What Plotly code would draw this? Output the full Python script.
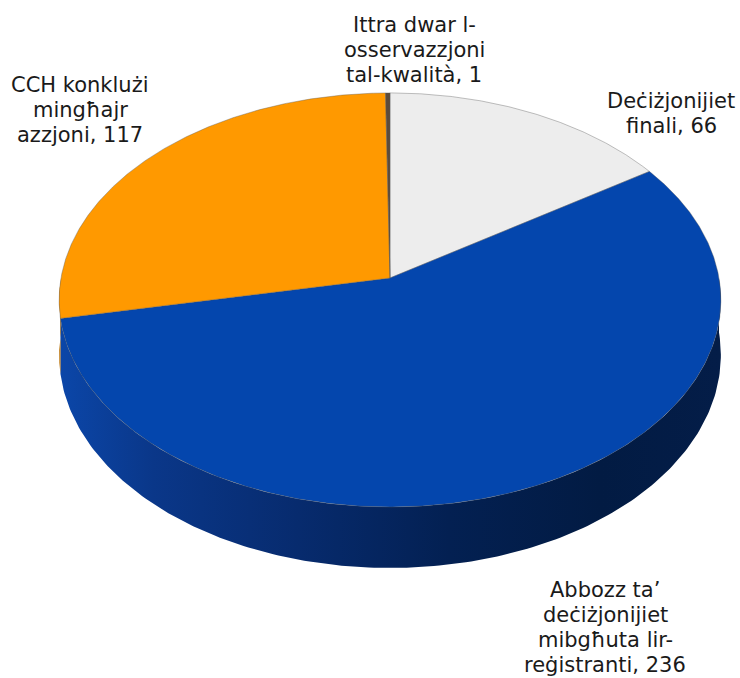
import numpy as np
import plotly.graph_objects as go

# ---------------- data ----------------
categories = [
    "Deċiżjonijiet finali",
    "Abbozz ta’ deċiżjonijiet mibgħuta lir-reġistranti",
    "CCH konklużi mingħajr azzjoni",
    "Ittra dwar l-osservazzjoni tal-kwalità",
]
values = [66, 236, 117, 1]
label_lines = [
    ["Deċiżjonijiet", "finali"],
    ["Abbozz ta’", "deċiżjonijiet", "mibgħuta lir-", "reġistranti"],
    ["CCH konklużi", "mingħajr", "azzjoni"],
    ["Ittra dwar l-", "osservazzjoni", "tal-kwalità"],
]

# ---------------- styles / layout ----------------
top_colors = ["#EDEDED", "#0446AD", "#FF9900", "#5C4B3A"]
side_colors = ["#BDBDBD", None, "#B86E00", "#3a3026"]
blue_side_scale = [
    [0.0, "#0b46a8"], [0.14, "#0a3789"], [0.36, "#072b6e"],
    [0.59, "#032052"], [0.82, "#021b43"], [1.0, "#041d48"],
]
# label anchor (center x, first baseline y) in pixel space
label_pos = [(671, 108), (605, 597), (80, 92), (414, 32)]
LINE_H = 25
FONT = dict(family="DejaVu Sans, Verdana, sans-serif", size=21, color="#1a1a1a")

W, H = 740, 678
CX, CY = 390.0, 278.0        # apex of the pie (projected centre)
R, S, K = 329.0, 204.7, 0.106  # horizontal radius, vertical scale, perspective
D = 54.5                      # thickness


def proj(theta, drop=0.0):
    t = np.radians(theta)
    u, v = np.sin(t), np.cos(t)
    den = 1.0 + K * v
    return CX + R * u / den, CY - S * v / den + drop / den


fig = go.Figure()

total = float(sum(values))
angles = np.concatenate([[0.0], np.cumsum(values) / total * 360.0])

# ---- side walls (front half only) ----
for i, v in enumerate(values):
    a, b = max(angles[i], 90.0), min(angles[i + 1], 270.0)
    if b <= a:
        continue
    th = np.linspace(a, b, 200)
    xt, yt = proj(th)
    xb, yb = proj(th[::-1], D)
    xs = np.concatenate([xt, xb, [xt[0]]])
    ys = np.concatenate([yt, yb, [yt[0]]])
    kw = {}
    if side_colors[i] is None:
        kw["fillgradient"] = dict(type="horizontal", colorscale=blue_side_scale,
                                  start=CX - R, stop=CX + R)
        kw["fillcolor"] = "#062a6c"
    else:
        kw["fillcolor"] = side_colors[i]
    fig.add_trace(go.Scatter(x=xs, y=ys, mode="lines", fill="toself",
                             line=dict(width=0), hoverinfo="skip",
                             showlegend=False, **kw))

# ---- top faces ----
for i, v in enumerate(values):
    th = np.linspace(angles[i], angles[i + 1], max(int((angles[i + 1] - angles[i]) * 3), 3))
    xa, ya = proj(th)
    xs = np.concatenate([[CX], xa, [CX]])
    ys = np.concatenate([[CY], ya, [CY]])
    fig.add_trace(go.Scatter(x=xs, y=ys, mode="lines", fill="toself",
                             fillcolor=top_colors[i],
                             line=dict(width=0.7, color="rgba(90,90,90,0.55)"),
                             name=categories[i], hoverinfo="name",
                             showlegend=False))

# ---- labels ----
for i, lines in enumerate(label_lines):
    txt = list(lines)
    txt[-1] = f"{txt[-1]}, {values[i]}"
    x0, y0 = label_pos[i]
    for j, line in enumerate(txt):
        fig.add_annotation(x=x0, y=y0 + j * LINE_H - 7, text=line,
                           showarrow=False, xanchor="center", yanchor="middle",
                           font=FONT)

fig.update_layout(
    width=W, height=H, autosize=False,
    margin=dict(l=0, r=0, t=0, b=0),
    paper_bgcolor="white", plot_bgcolor="white",
    xaxis=dict(range=[0, W], visible=False, fixedrange=True),
    yaxis=dict(range=[H, 0], visible=False, fixedrange=True),
)

fig.write_html("out.html", config={"displayModeBar": False},
               post_script="document.body.style.margin='0';")
